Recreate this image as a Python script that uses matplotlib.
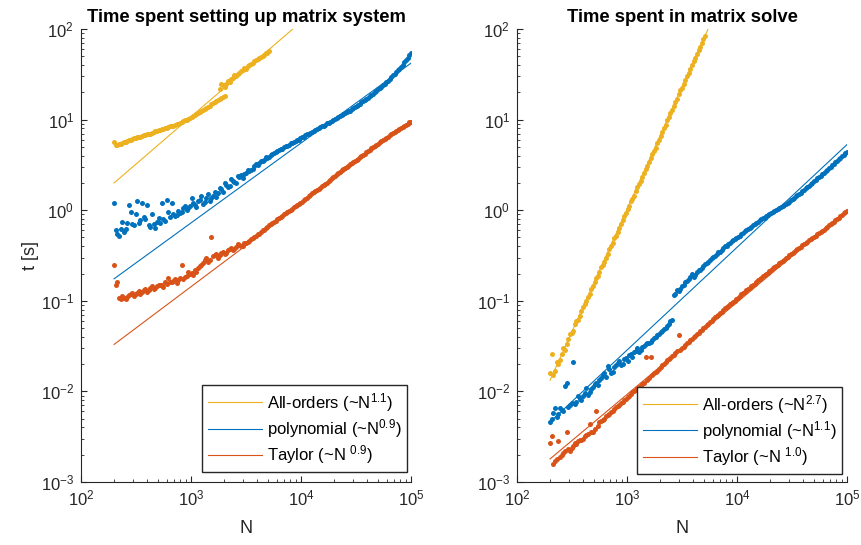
import matplotlib
matplotlib.use("Agg")
import matplotlib.pyplot as plt
from matplotlib.ticker import LogLocator, NullFormatter

plt.rcParams['font.family'] = ['Liberation Sans', 'DejaVu Sans']
plt.rcParams['mathtext.fontset'] = 'custom'
plt.rcParams['mathtext.rm'] = 'Liberation Sans'
plt.rcParams['mathtext.it'] = 'Liberation Sans:italic'
plt.rcParams['mathtext.bf'] = 'Liberation Sans:bold'

# ---------------- data ----------------
N_grid = [200, 214, 230, 246, 263, 282, 302, 324, 347, 372, 398, 427, 457, 490, 525,
          562, 603, 646, 692, 741, 794, 851, 912, 977, 1047, 1122, 1202, 1288, 1380,
          1479, 1585, 1698, 1820, 1950, 2089, 2239, 2399, 2570, 2754, 2951, 3162, 3388,
          3631, 3890, 4169, 4467, 4786, 5129, 5495, 5888, 6310, 6761, 7244, 7762, 8318,
          8913, 9550, 10233, 10965, 11749, 12589, 13490, 14454, 15488, 16596, 17783,
          19055, 20417, 21878, 23442, 25119, 26915, 28840, 30903, 33113, 35481, 38019,
          40738, 43652, 46774, 50119, 53703, 57544, 61660, 66069, 70795, 75858, 81283,
          87096, 93325, 100000]
N_grid2 = [207, 222, 238, 255, 272, 292, 313, 335, 359, 385, 412, 442, 473, 507, 543,
           582, 624, 668, 716, 767, 822, 881, 944, 1012, 1084, 1161, 1245, 1334, 1429,
           1531, 1641, 1758, 1884, 2018, 2163, 2317, 2483, 2661, 2851, 3055, 3273, 3508,
           3758, 4027, 4315, 4624, 4955, 5309, 5689, 6095, 6531, 6998, 7499, 8035, 8610,
           9226, 9886, 10593, 11350, 12162, 13032, 13964, 14962, 16032, 17179, 18408,
           19724, 21135, 22646, 24266, 26002, 27861, 29854, 31989, 34277, 36728, 39355,
           42170, 45186, 48417, 51880, 55590, 59566, 63826, 68391, 73282, 78523, 84140,
           90157, 96605]

# ---- setup time ----
# All-orders: lower branch (N_grid[0:34]) and upper branch (N_grid[32:48])
setup_all_lo = [5.6, 5.3, 5.4, 5.6, 5.8, 6.0, 6.2, 6.4, 6.5, 6.7, 6.9, 7.0, 7.3, 7.5, 7.7,
                7.9, 8.1, 8.4, 8.6, 8.9, 9.2, 9.6, 10.0, 10.4, 10.9, 11.4, 12.1, 12.8,
                13.5, 14.3, 15.1, 16.0, 16.9, 17.9]
setup_all_hi = [22, 24, 25, 26, 29, 30, 33, 35, 36, 40, 42, 45, 48, 50, 54, 57]
# second samples on N_grid2 (lower: from index 0, upper: from index 32)
setup_all_lo2 = [5.2, 5.35, 5.5, 5.7, 5.9, 6.1, 6.3, 6.45, 6.6, 6.8, 6.95, 7.15, 7.4, 7.6,
                 7.8, 8.0, 8.25, 8.5, 8.75, 9.05, 9.4, 9.8, 10.2, 10.6, 11.1, 11.8, 12.4,
                 13.1, 13.9, 14.7, 15.5, 16.4, 17.3, 18.3]
setup_all_hi2 = [25, 23, 27, 28, 31, 32, 34, 37, 39, 41, 44, 47, 49, 52, 55]

setup_poly = [1.2, 0.55, 0.62, 0.58, 0.72, 0.95, 0.68, 1.25, 0.78, 0.85, 1.15, 0.66, 0.70,
              0.75, 0.72, 0.80, 1.30, 0.85, 0.90, 0.88, 0.92, 1.05, 1.00, 1.10, 1.20, 1.08,
              1.30, 1.18, 1.35, 1.25, 1.45, 1.40, 1.75, 1.60, 1.90, 1.85, 2.10, 2.00, 2.30,
              2.25, 2.60, 2.70, 2.85, 3.20, 3.30, 3.50, 3.85, 3.90, 4.20, 4.40, 4.60, 4.75,
              5.10, 5.30, 5.50, 5.80, 6.00, 6.40, 6.70, 7.00, 7.30, 7.70, 8.00, 8.50, 8.80,
              9.20, 9.70, 10.1, 10.6, 11.2, 11.8, 12.3, 13.0, 13.8, 14.6, 15.5, 16.4, 17.5,
              18.7, 20.0, 21.5, 23.0, 25.0, 27.0, 29.5, 32.0, 35.0, 38.5, 43.0, 48.0, 55.0]
setup_poly2 = [0.60, 0.52, 0.75, 0.62, 1.15, 0.70, 0.90, 0.72, 1.20, 0.80, 0.68, 0.90, 0.64,
               0.82, 1.20, 0.76, 0.95, 1.20, 0.86, 0.98, 0.95, 1.12, 1.05, 1.35, 1.15, 1.25,
               1.45, 1.22, 1.50, 1.35, 1.60, 1.55, 1.70, 2.00, 1.80, 2.20, 2.05, 2.40, 2.45,
               2.50, 2.75, 2.80, 3.05, 3.15, 3.45, 3.60, 3.80, 4.10, 4.25, 4.55, 4.70, 5.00,
               5.15, 5.45, 5.60, 5.95, 6.20, 6.50, 6.90, 7.10, 7.55, 7.80, 8.30, 8.60, 9.10,
               9.40, 9.95, 10.3, 11.0, 11.4, 12.1, 12.6, 13.5, 14.2, 15.0, 16.0, 17.0, 18.0,
               19.4, 20.6, 22.3, 23.8, 26.0, 28.0, 30.8, 33.5, 36.5, 40.5, 45.0, 51.0]

setup_taylor = [0.25, 0.16, 0.105, 0.107, 0.110, 0.118, 0.112, 0.122, 0.120, 0.130, 0.126,
                0.138, 0.135, 0.145, 0.150, 0.142, 0.155, 0.160, 0.165, 0.158, 0.180, 0.175,
                0.190, 0.200, 0.195, 0.210, 0.24, 0.26, 0.30, 0.28, 0.31, 0.33, 0.32, 0.35,
                0.34, 0.37, 0.36, 0.39, 0.41, 0.40, 0.44, 0.46, 0.49, 0.52, 0.55, 0.60, 0.63,
                0.68, 0.72, 0.76, 0.82, 0.87, 0.92, 0.98, 1.04, 1.12, 1.18, 1.24, 1.32, 1.42,
                1.55, 1.62, 1.72, 1.85, 1.95, 2.10, 2.25, 2.40, 2.55, 2.75, 2.90, 3.10, 3.30,
                3.50, 3.70, 3.95, 4.20, 4.50, 4.80, 5.10, 5.40, 5.75, 6.10, 6.50, 6.90, 7.30,
                7.70, 8.10, 8.60, 9.00, 9.50]
setup_taylor2 = [0.15, 0.108, 0.112, 0.104, 0.115, 0.122, 0.118, 0.127, 0.125, 0.135, 0.13,
                 0.145, 0.140, 0.15, 0.148, 0.16, 0.18, 0.163, 0.175, 0.17, 0.25, 0.185,
                 0.21, 0.205, 0.22, 0.23, 0.25, 0.28, 0.27, 0.50, 0.32, 0.30, 0.34, 0.33,
                 0.36, 0.38, 0.37, 0.42, 0.40, 0.43, 0.45, 0.48, 0.50, 0.54, 0.57, 0.61,
                 0.66, 0.70, 0.74, 0.80, 0.84, 0.90, 0.95, 1.01, 1.08, 1.15, 1.21, 1.28,
                 1.36, 1.48, 1.58, 1.68, 1.78, 1.90, 2.02, 2.18, 2.30, 2.50, 2.62, 2.85,
                 3.00, 3.20, 3.40, 3.60, 3.85, 4.05, 4.35, 4.65, 4.95, 5.25, 5.60, 5.95,
                 6.30, 6.70, 7.10, 7.50, 7.90, 8.35, 8.80, 9.30]

# ---- solve time ----
solve_all = [0.016, 0.015, 0.021, 0.022, 0.030, 0.033, 0.043, 0.047, 0.060, 0.068, 0.085,
             0.10, 0.12, 0.145, 0.18, 0.21, 0.25, 0.30, 0.37, 0.44, 0.52, 0.64, 0.78, 0.92,
             1.12, 1.32, 1.62, 1.95, 2.30, 2.85, 3.40, 4.20, 4.90, 6.00, 7.30, 8.70, 10.8,
             12.9, 15.5, 19.0, 22.5, 27.5, 33.0, 40.0, 48.0, 58.0, 70.0, 84.0]
solve_all2 = [0.026, 0.017, 0.020, 0.026, 0.029, 0.038, 0.044, 0.055, 0.062, 0.078, 0.093,
              0.11, 0.135, 0.16, 0.19, 0.235, 0.27, 0.33, 0.40, 0.49, 0.57, 0.70, 0.86,
              1.02, 1.25, 1.45, 1.80, 2.10, 2.60, 3.10, 3.80, 4.50, 5.50, 6.60, 8.00, 9.80,
              11.8, 14.3, 17.0, 21.0, 25.0, 30.0, 36.5, 44.0, 53.0, 64.0, 77.0]
solve_poly = [0.0046, 0.0058, 0.0052, 0.0066, 0.0061, 0.0125, 0.0070, 0.021, 0.0076, 0.0083,
              0.0088, 0.0110, 0.0098, 0.0112, 0.0125, 0.0133, 0.0150, 0.0145, 0.0175, 0.0165,
              0.0195, 0.0215, 0.0200, 0.0235, 0.0250, 0.0240, 0.0280, 0.0275, 0.0310, 0.0330,
              0.0345, 0.0370, 0.0400, 0.0430, 0.0470, 0.0500, 0.0560, 0.0620, 0.120, 0.128,
              0.145, 0.160, 0.175, 0.200, 0.195, 0.220, 0.230, 0.255, 0.270, 0.300, 0.315,
              0.345, 0.365, 0.400, 0.420, 0.455, 0.480, 0.510, 0.545, 0.585, 0.620, 0.660,
              0.710, 0.750, 0.790, 0.830, 0.880, 0.930, 0.980, 1.03, 1.08, 1.14, 1.20, 1.28,
              1.38, 1.46, 1.56, 1.68, 1.80, 1.95, 2.10, 2.25, 2.40, 2.60, 2.80, 3.00, 3.25,
              3.50, 3.80, 4.10, 4.40]
solve_poly2 = [0.0050, 0.0065, 0.0056, 0.0062, 0.0115, 0.0068, 0.0075, 0.0072, 0.0090,
               0.0080, 0.0095, 0.0092, 0.0105, 0.0120, 0.0118, 0.0140, 0.0160, 0.0190,
               0.0160, 0.0185, 0.0205, 0.0195, 0.0225, 0.0215, 0.0260, 0.0270, 0.0300,
               0.0290, 0.0320, 0.0340, 0.0355, 0.0390, 0.0420, 0.0450, 0.0490, 0.0530,
               0.0600, 0.115, 0.130, 0.135, 0.150, 0.165, 0.185, 0.185, 0.210, 0.220,
               0.245, 0.260, 0.285, 0.305, 0.330, 0.350, 0.385, 0.405, 0.440, 0.465, 0.495,
               0.525, 0.565, 0.600, 0.640, 0.685, 0.730, 0.770, 0.810, 0.860, 0.905, 0.955,
               1.00, 1.06, 1.11, 1.17, 1.24, 1.33, 1.42, 1.51, 1.62, 1.74, 1.87, 2.02, 2.17,
               2.32, 2.50, 2.70, 2.90, 3.12, 3.38, 3.65, 3.95, 4.25]
solve_taylor = [0.0027, 0.0016, 0.0018, 0.0019, 0.0021, 0.0036, 0.0022, 0.0025, 0.0026,
                0.0029, 0.0030, 0.0033, 0.0044, 0.0036, 0.0060, 0.0046, 0.0048, 0.0053,
                0.0057, 0.0060, 0.0067, 0.0071, 0.0076, 0.0083, 0.0090, 0.0098, 0.0104,
                0.0112, 0.0120, 0.0240, 0.0140, 0.0150, 0.0165, 0.0175, 0.0195, 0.0210,
                0.0225, 0.0245, 0.0265, 0.0420, 0.0300, 0.0325, 0.0350, 0.0380, 0.0410,
                0.0440, 0.0480, 0.0520, 0.0560, 0.0600, 0.0660, 0.0700, 0.0760, 0.0830,
                0.0880, 0.0950, 0.100, 0.108, 0.118, 0.125, 0.135, 0.145, 0.155, 0.170,
                0.180, 0.195, 0.205, 0.220, 0.235, 0.250, 0.270, 0.285, 0.305, 0.330, 0.350,
                0.370, 0.395, 0.420, 0.450, 0.480, 0.510, 0.540, 0.580, 0.610, 0.660, 0.700,
                0.750, 0.800, 0.860, 0.920, 0.980]
solve_taylor2 = [0.0032, 0.0017, 0.0028, 0.0020, 0.0022, 0.0023, 0.0024, 0.0027, 0.0028,
                 0.0029, 0.0032, 0.0034, 0.0036, 0.0038, 0.0042, 0.0047, 0.0050, 0.0055,
                 0.0059, 0.0064, 0.0069, 0.0074, 0.0080, 0.0087, 0.0094, 0.0100, 0.0108,
                 0.0116, 0.0125, 0.0133, 0.0240, 0.0158, 0.0170, 0.0185, 0.0200, 0.0220,
                 0.0235, 0.0255, 0.0280, 0.0290, 0.0310, 0.0340, 0.0365, 0.0395, 0.0425,
                 0.0460, 0.0500, 0.0540, 0.0580, 0.0630, 0.0680, 0.0730, 0.0790, 0.0850,
                 0.0920, 0.0980, 0.104, 0.112, 0.121, 0.130, 0.140, 0.150, 0.160, 0.175,
                 0.187, 0.200, 0.213, 0.228, 0.243, 0.260, 0.278, 0.295, 0.318, 0.340,
                 0.360, 0.382, 0.408, 0.435, 0.465, 0.495, 0.525, 0.560, 0.595, 0.635,
                 0.680, 0.725, 0.775, 0.830, 0.890, 0.950]

# power-law fit lines: values at the end points N = 200 and N = 1e5
fit_N = [200, 100000]
setup_fit_all = [2.0, 1330.0]
setup_fit_poly = [0.175, 42.0]
setup_fit_taylor = [0.033, 9.5]
solve_fit_all = [0.0133, 2.57e5]
solve_fit_poly = [0.0046, 5.3]
solve_fit_taylor = [0.0018, 1.0]

setup_exps = ['1.1', '0.9', '0.9']
solve_exps = ['2.7', '1.1', '1.0']

titles = ['Time spent setting up matrix system', 'Time spent in matrix solve']

C_ALL = '#EDB120'
C_POLY = '#0072BD'
C_TAY = '#D95319'
AX_COL = '#262626'

fig = plt.figure(figsize=(8.61, 5.45), dpi=100)
ax1 = fig.add_axes([81/861, 63/545, 330/861, 453/545])
ax2 = fig.add_axes([517/861, 63/545, 330/861, 453/545])

mk = dict(ls='none', marker='o', ms=3.6, mew=0)


def pts(ax, n, t, c, start=0):
    ax.plot(n[start:start + len(t)], t[:len(n) - start], color=c, **mk)


leg_kw = dict(loc='lower right', borderaxespad=0, fontsize=12, handlelength=3.2,
              handletextpad=0.3, labelspacing=0.2, borderpad=0.35, fancybox=False,
              framealpha=1, edgecolor=AX_COL)

# left panel
pts(ax1, N_grid, setup_all_lo, C_ALL)
pts(ax1, N_grid, setup_all_hi, C_ALL, 32)
pts(ax1, N_grid2, setup_all_lo2, C_ALL)
pts(ax1, N_grid2, setup_all_hi2, C_ALL, 32)
pts(ax1, N_grid, setup_poly, C_POLY)
pts(ax1, N_grid2, setup_poly2, C_POLY)
pts(ax1, N_grid, setup_taylor, C_TAY)
pts(ax1, N_grid2, setup_taylor2, C_TAY)
l1 = ax1.plot(fit_N, setup_fit_all, color=C_ALL, lw=0.8)[0]
l2 = ax1.plot(fit_N, setup_fit_poly, color=C_POLY, lw=0.8)[0]
l3 = ax1.plot(fit_N, setup_fit_taylor, color=C_TAY, lw=0.8)[0]
ax1.legend([l1, l2, l3],
           ['All-orders (~N$^{%s}$)' % setup_exps[0],
            'polynomial (~N$^{%s}$)' % setup_exps[1],
            'Taylor (~N $^{%s}$)' % setup_exps[2]],
           bbox_to_anchor=(0.988, 0.022), **leg_kw)

# right panel
pts(ax2, N_grid, solve_all, C_ALL)
pts(ax2, N_grid2, solve_all2, C_ALL)
pts(ax2, N_grid, solve_poly, C_POLY)
pts(ax2, N_grid2, solve_poly2, C_POLY)
pts(ax2, N_grid, solve_taylor, C_TAY)
pts(ax2, N_grid2, solve_taylor2, C_TAY)
r1 = ax2.plot(fit_N, solve_fit_all, color=C_ALL, lw=0.8)[0]
r2 = ax2.plot(fit_N, solve_fit_poly, color=C_POLY, lw=0.8)[0]
r3 = ax2.plot(fit_N, solve_fit_taylor, color=C_TAY, lw=0.8)[0]
ax2.legend([r1, r2, r3],
           ['All-orders (~N$^{%s}$)' % solve_exps[0],
            'polynomial (~N$^{%s}$)' % solve_exps[1],
            'Taylor (~N $^{%s}$)' % solve_exps[2]],
           bbox_to_anchor=(0.985, 0.018), **leg_kw)

for ax, title in zip([ax1, ax2], titles):
    ax.set_xscale('log')
    ax.set_yscale('log')
    ax.set_xlim(1e2, 1e5)
    ax.set_ylim(1e-3, 1e2)
    ax.spines['top'].set_visible(False)
    ax.spines['right'].set_visible(False)
    for s in ['left', 'bottom']:
        ax.spines[s].set_color(AX_COL)
        ax.spines[s].set_linewidth(0.8)
    ax.xaxis.set_major_locator(LogLocator(base=10, numticks=10))
    ax.yaxis.set_major_locator(LogLocator(base=10, numticks=10))
    ax.xaxis.set_minor_locator(LogLocator(base=10, subs=range(2, 10), numticks=20))
    ax.yaxis.set_minor_locator(LogLocator(base=10, subs=range(2, 10), numticks=20))
    ax.xaxis.set_minor_formatter(NullFormatter())
    ax.yaxis.set_minor_formatter(NullFormatter())
    ax.tick_params(which='major', direction='in', length=4, width=0.8,
                   colors=AX_COL, labelsize=12, pad=5)
    ax.tick_params(which='minor', direction='in', length=2.2, width=0.6,
                   colors=AX_COL)
    ax.set_title(title, fontsize=13.3, fontweight='bold', pad=5)
    ax.set_xlabel('N', fontsize=13, color=AX_COL, labelpad=8)

ax1.set_ylabel('t [s]', fontsize=13, color=AX_COL, labelpad=1)

fig.savefig('out.png', dpi=100)
